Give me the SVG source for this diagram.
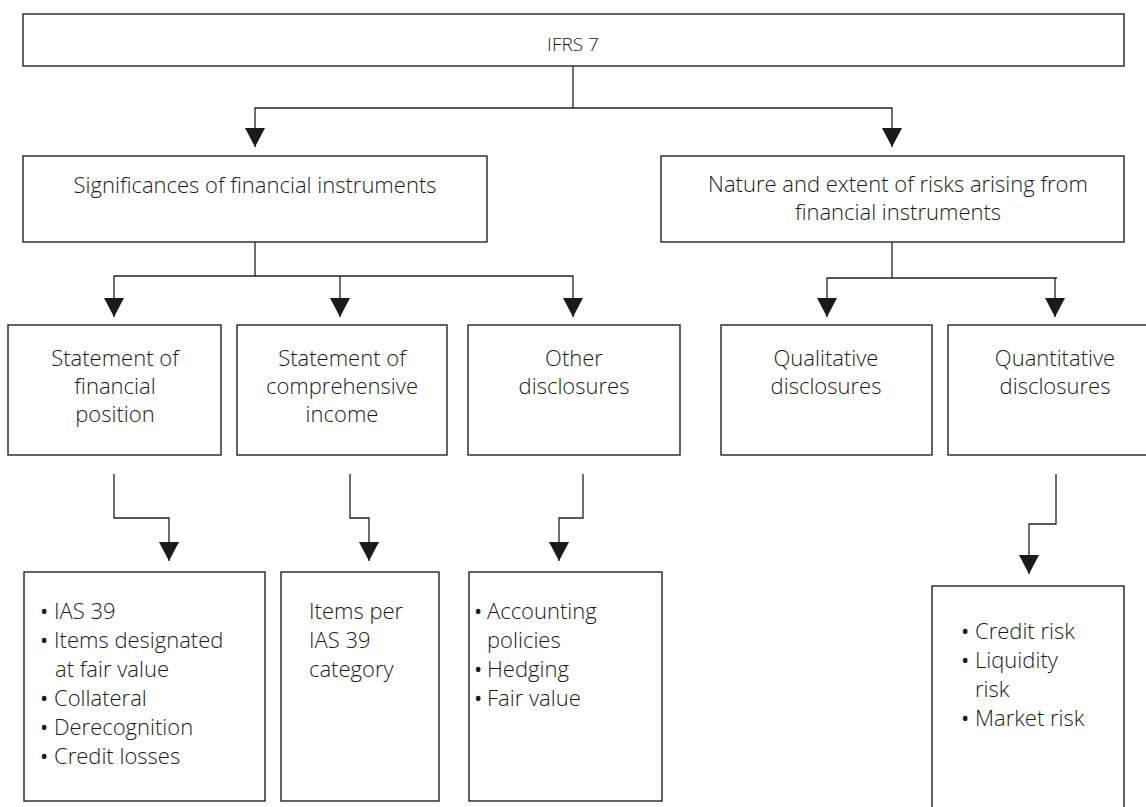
<svg xmlns="http://www.w3.org/2000/svg" width="1146" height="807" viewBox="0 0 1146 807">
  <style>
    .box { fill: #ffffff; stroke: #303030; stroke-width: 1.5; }
    .lbl { font-family: "Open Sans", "Noto Sans", "Liberation Sans", sans-serif; font-size: 22px; font-weight: 300; fill: #1a1a1a; }
    .mid { text-anchor: middle; }
    .small { font-size: 19px; }
    .dot { font-weight: 400; }
    .wire { fill: none; stroke: #222222; stroke-width: 1.3; }
  </style>
  <defs>
    <marker id="head" markerUnits="userSpaceOnUse" markerWidth="20" markerHeight="20" viewBox="0 0 20 20" refX="19" refY="10" orient="auto">
      <path d="M0,0 L19,10 L0,20 Z" fill="#1a1a1a"/>
    </marker>
  </defs>
  <rect width="1146" height="807" fill="#ffffff"/>

  <!-- connectors -->
  <g id="connectors">
    <path class="wire" d="M573,66 V108"/>
    <path class="wire" d="M573,108 H255 V147" marker-end="url(#head)"/>
    <path class="wire" d="M573,108 H892 V147" marker-end="url(#head)"/>

    <path class="wire" d="M255,242 V276"/>
    <path class="wire" d="M255,276 H114 V317" marker-end="url(#head)"/>
    <path class="wire" d="M340,276 V317" marker-end="url(#head)"/>
    <path class="wire" d="M255,276 H573 V317" marker-end="url(#head)"/>

    <path class="wire" d="M892,242 V278"/>
    <path class="wire" d="M892,278 H827 V317" marker-end="url(#head)"/>
    <path class="wire" d="M892,278 H1057"/>
    <path class="wire" d="M1055,278 V317" marker-end="url(#head)"/>

    <path class="wire" d="M114,474 V518 H169 V561" marker-end="url(#head)"/>
    <path class="wire" d="M350,474 V518 H369 V561" marker-end="url(#head)"/>
    <path class="wire" d="M583,474 V518 H559 V561" marker-end="url(#head)"/>
    <path class="wire" d="M1056,474 V524 H1029 V574" marker-end="url(#head)"/>
  </g>

  <!-- level 0 -->
  <g id="ifrs7">
    <rect class="box" x="23" y="14" width="1101" height="52"/>
    <text class="lbl mid small" x="573" y="51">IFRS 7</text>
  </g>

  <!-- level 1 -->
  <g id="significance">
    <rect class="box" x="23" y="156" width="464" height="86"/>
    <text class="lbl mid" x="255" y="193">Significances of financial instruments</text>
  </g>
  <g id="risks">
    <rect class="box" x="661" y="156" width="463" height="86"/>
    <text class="lbl mid" x="898" y="192">Nature and extent of risks arising from</text>
    <text class="lbl mid" x="898" y="220">financial instruments</text>
  </g>

  <!-- level 2 -->
  <g id="financial-position">
    <rect class="box" x="8" y="325" width="213" height="130"/>
    <text class="lbl mid" x="115" y="366">Statement of</text>
    <text class="lbl mid" x="115" y="394">financial</text>
    <text class="lbl mid" x="115" y="422">position</text>
  </g>
  <g id="comprehensive-income">
    <rect class="box" x="237" y="325" width="210" height="130"/>
    <text class="lbl mid" x="342" y="366">Statement of</text>
    <text class="lbl mid" x="342" y="394">comprehensive</text>
    <text class="lbl mid" x="342" y="422">income</text>
  </g>
  <g id="other-disclosures">
    <rect class="box" x="468" y="325" width="212" height="130"/>
    <text class="lbl mid" x="574" y="366">Other</text>
    <text class="lbl mid" x="574" y="394">disclosures</text>
  </g>
  <g id="qualitative">
    <rect class="box" x="721" y="325" width="211" height="130"/>
    <text class="lbl mid" x="826" y="366">Qualitative</text>
    <text class="lbl mid" x="826" y="394">disclosures</text>
  </g>
  <g id="quantitative">
    <rect class="box" x="948" y="325" width="216" height="130"/>
    <text class="lbl mid" x="1055" y="366">Quantitative</text>
    <text class="lbl mid" x="1055" y="394">disclosures</text>
  </g>

  <!-- level 3 -->
  <g id="position-items">
    <rect class="box" x="24" y="572" width="241" height="229"/>
    <text class="lbl" y="619"><tspan class="dot" x="40">•</tspan><tspan x="54">IAS 39</tspan></text>
    <text class="lbl" y="648"><tspan class="dot" x="40">•</tspan><tspan x="54">Items designated</tspan></text>
    <text class="lbl" x="55" y="677">at fair value</text>
    <text class="lbl" y="706"><tspan class="dot" x="40">•</tspan><tspan x="54">Collateral</tspan></text>
    <text class="lbl" y="735"><tspan class="dot" x="40">•</tspan><tspan x="54">Derecognition</tspan></text>
    <text class="lbl" y="764"><tspan class="dot" x="40">•</tspan><tspan x="54">Credit losses</tspan></text>
  </g>
  <g id="income-items">
    <rect class="box" x="281" y="572" width="158" height="229"/>
    <text class="lbl" x="309" y="619">Items per</text>
    <text class="lbl" x="309" y="648">IAS 39</text>
    <text class="lbl" x="309" y="677">category</text>
  </g>
  <g id="other-items">
    <rect class="box" x="469" y="572" width="193" height="229"/>
    <text class="lbl" y="619"><tspan class="dot" x="474">•</tspan><tspan x="487">Accounting</tspan></text>
    <text class="lbl" x="487" y="648">policies</text>
    <text class="lbl" y="677"><tspan class="dot" x="474">•</tspan><tspan x="487">Hedging</tspan></text>
    <text class="lbl" y="706"><tspan class="dot" x="474">•</tspan><tspan x="487">Fair value</tspan></text>
  </g>
  <g id="risk-types">
    <rect class="box" x="932" y="586" width="192" height="230"/>
    <text class="lbl" y="639"><tspan class="dot" x="961">•</tspan><tspan x="975">Credit risk</tspan></text>
    <text class="lbl" y="668"><tspan class="dot" x="961">•</tspan><tspan x="975">Liquidity</tspan></text>
    <text class="lbl" x="975" y="697">risk</text>
    <text class="lbl" y="726"><tspan class="dot" x="961">•</tspan><tspan x="975">Market risk</tspan></text>
  </g>
</svg>
